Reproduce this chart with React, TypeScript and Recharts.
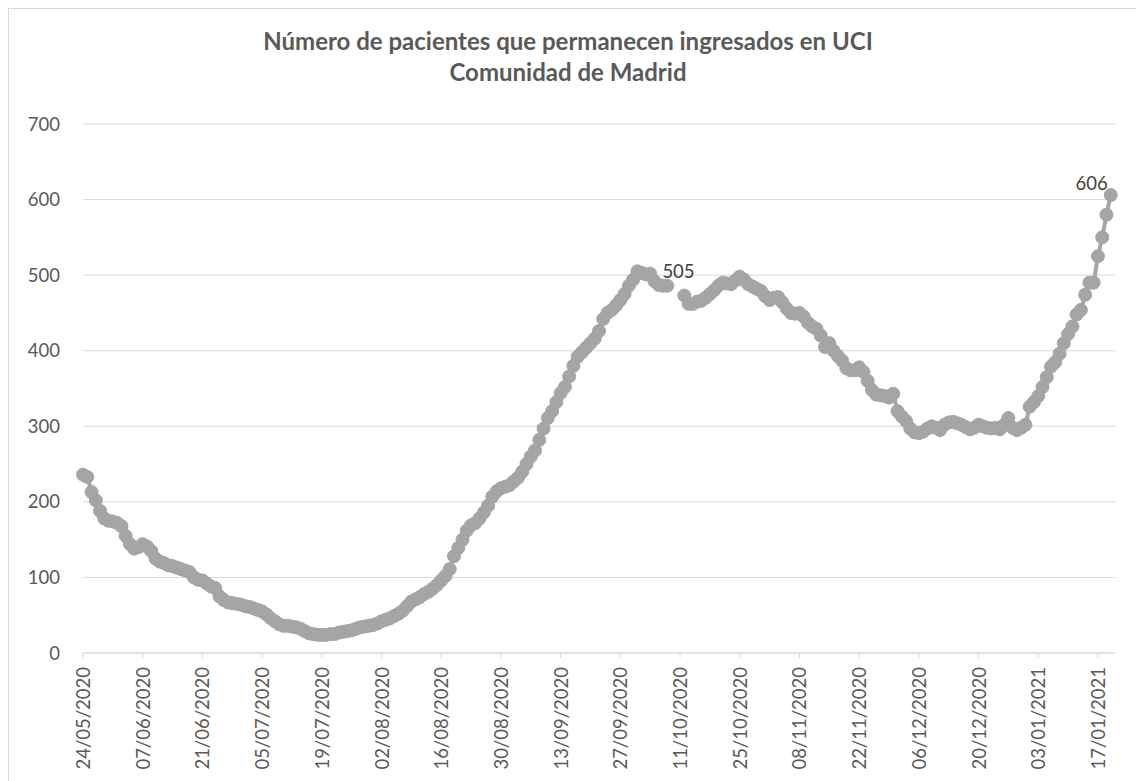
import { CartesianGrid, LabelList, Line, LineChart, XAxis, YAxis } from "recharts";

// pacientes en UCI, un valor por día desde el 24/05/2020 (null = sin dato)
const pacientes: (number | null)[] = [
  236, 233, 213, 202, 188, 178, 175, 174, 172, 168, 155, 144, 138, 140,
  144, 141, 135, 125, 121, 119, 116, 115, 113, 111, 109, 107, 100, 97,
  96, 92, 88, 86, 75, 70, 67, 66, 65, 64, 62, 61, 59, 57,
  55, 51, 46, 42, 38, 36, 36, 35, 34, 32, 29, 26, 25, 24,
  24, 24, 25, 25, 27, 28, 29, 30, 32, 34, 35, 36, 37, 39,
  42, 44, 46, 49, 52, 56, 62, 68, 71, 74, 78, 81, 85, 90,
  96, 102, 111, 128, 139, 150, 162, 169, 172, 178, 186, 195, 207, 214,
  218, 220, 222, 227, 232, 240, 250, 260, 268, 282, 297, 311, 320, 332,
  344, 352, 366, 380, 392, 398, 404, 410, 416, 426, 442, 450, 454, 460,
  467, 475, 486, 494, 505, 503, 501, 502, 492, 487, 486, 486, null, null,
  null, 473, 462, 462, 465, 466, 470, 475, 480, 486, 490, 489, 488, 493,
  498, 494, 488, 485, 482, 479, 472, 467, 470, 471, 464, 456, 450, 449,
  450, 445, 437, 432, 429, 420, 405, 410, 400, 393, 387, 377, 374, 374,
  378, 372, 360, 348, 342, 341, 340, 338, 343, 320, 313, 307, 297, 292,
  291, 293, 297, 300, 298, 295, 302, 305, 306, 304, 302, 299, 296, 298,
  302, 300, 298, 297, 298, 296, 302, 311, 298, 295, 298, 302, 326, 332,
  340, 352, 365, 379, 385, 396, 410, 422, 432, 448, 454, 474, 490, 490,
  525, 550, 580, 606,
];

// etiquetas del eje X cada 14 días
const fechas = [
  "24/05/2020", "07/06/2020", "21/06/2020", "05/07/2020", "19/07/2020", "02/08/2020",
  "16/08/2020", "30/08/2020", "13/09/2020", "27/09/2020", "11/10/2020", "25/10/2020",
  "08/11/2020", "22/11/2020", "06/12/2020", "20/12/2020", "03/01/2021", "17/01/2021",
];
const diasTicks = fechas.map((_, i) => i * 14);
const ticksY = [0, 100, 200, 300, 400, 500, 600, 700];

// puntos con etiqueta de valor
const etiquetados = [130, 241];

const data = pacientes.map((v, i) => ({
  dia: i,
  uci: v,
  etiqueta: etiquetados.includes(i) ? v : null,
}));

const GRIS = "#A5A5A5";
const TEXTO = "#595959";

function TickFecha({ x, y, payload }: any) {
  const idx = diasTicks.indexOf(payload.value);
  return (
    <text
      x={x}
      y={y}
      transform={`rotate(-90, ${x}, ${y})`}
      textAnchor="end"
      dy="0.38em"
      fill={TEXTO}
      fontSize={18.5}
    >
      {fechas[idx]}
    </text>
  );
}

function EtiquetaValor(props: any) {
  const { x, y, value, index } = props;
  if (value == null) return null;
  const ultima = index === pacientes.length - 1;
  return (
    <text
      x={ultima ? x - 3 : x + 25}
      y={ultima ? y - 12 : y}
      dy="0.36em"
      textAnchor={ultima ? "end" : "start"}
      fill="#404040"
      fontSize={18.5}
    >
      {value}
    </text>
  );
}

export default function App() {
  return (
    <div
      style={{
        position: "absolute",
        left: 0,
        top: 0,
        width: 1136,
        height: 781,
        background: "#fff",
        fontFamily: "Lato, 'Open Sans', sans-serif",
      }}
    >
      <svg
        width={1136}
        height={781}
        style={{ position: "absolute", left: 0, top: 0, pointerEvents: "none" }}
      >
        <rect x={8.5} y={8.5} width={1140} height={790} fill="none" stroke="#D9D9D9" />
        <text x={568} y={50} textAnchor="middle" fontWeight="bold" fontSize={24} fill={TEXTO}>
          Número de pacientes que permanecen ingresados en UCI
        </text>
        <text x={568} y={81} textAnchor="middle" fontWeight="bold" fontSize={24} fill={TEXTO}>
          Comunidad de Madrid
        </text>
      </svg>
      <div style={{ position: "absolute", left: 0, top: 0 }}>
        <LineChart
          width={1136}
          height={781}
          data={data}
          margin={{ top: 124, right: 21, left: 0, bottom: 8 }}
        >
          <CartesianGrid vertical={false} stroke="#D9D9D9" />
          <XAxis
            dataKey="dia"
            type="number"
            domain={[0, 242]}
            ticks={diasTicks}
            interval={0}
            height={120}
            tickSize={5}
            tickMargin={9}
            axisLine={{ stroke: "#D9D9D9" }}
            tickLine={{ stroke: "#D9D9D9" }}
            tick={<TickFecha />}
          />
          <YAxis
            domain={[0, 700]}
            ticks={ticksY}
            width={83}
            axisLine={false}
            tickLine={false}
            tickSize={6}
            tickMargin={17}
            tick={{ fill: TEXTO, fontSize: 18.5 }}
          />
          <Line
            dataKey="uci"
            stroke={GRIS}
            strokeWidth={4}
            dot={{ r: 6.5, fill: GRIS, stroke: GRIS, strokeWidth: 1 }}
            isAnimationActive={false}
          >
            <LabelList dataKey="etiqueta" content={<EtiquetaValor />} />
          </Line>
        </LineChart>
      </div>
    </div>
  );
}
